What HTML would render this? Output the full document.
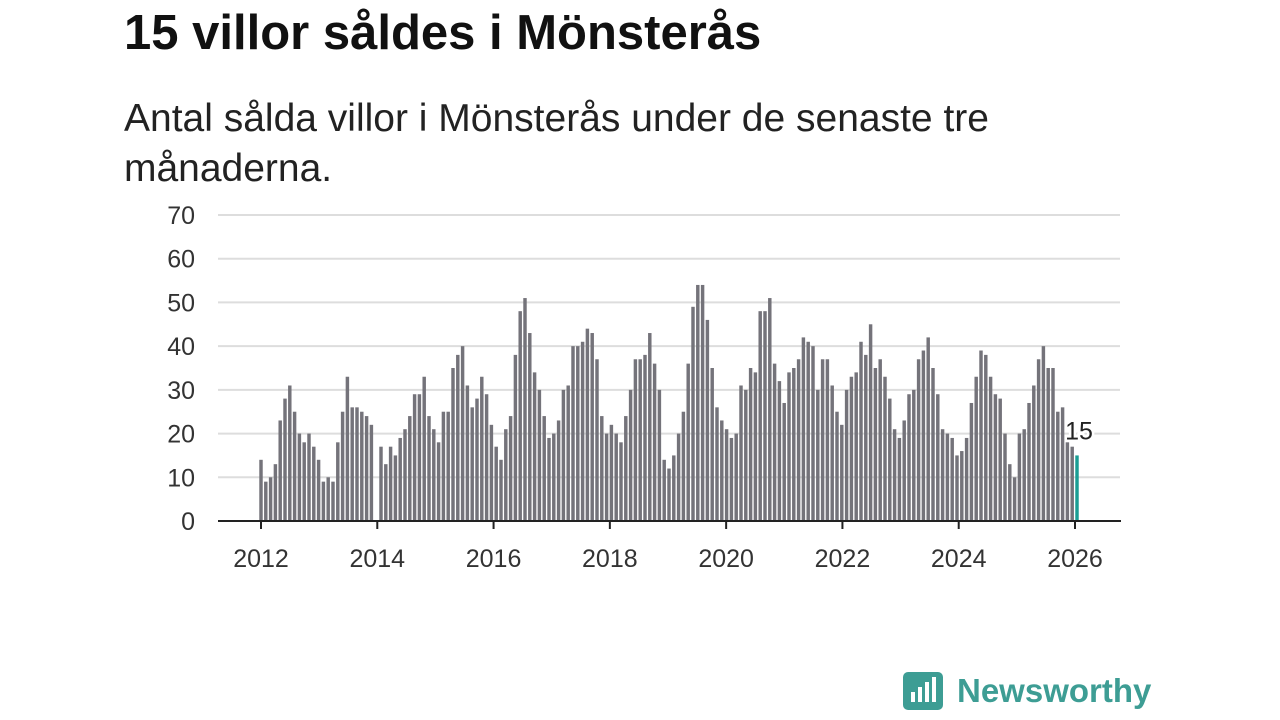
<!DOCTYPE html>
<html><head><meta charset="utf-8"><style>
body{margin:0;width:1280px;height:720px;background:#fff;font-family:"Liberation Sans",sans-serif;overflow:hidden;position:relative}
h1{position:absolute;left:124px;top:5px;margin:0;font-size:49px;font-weight:bold;color:#111}
p{position:absolute;left:124px;top:94px;margin:0;font-size:39px;line-height:50px;color:#222;width:960px}
svg{position:absolute;left:0;top:0}
</style></head><body>
<h1>15 villor såldes i Mönsterås</h1>
<p>Antal sålda villor i Mönsterås under de senaste tre månaderna.</p>
<svg id="c" width="1280" height="720"></svg>
<div style="position:absolute;left:903px;top:672px;display:flex;align-items:center">
<div style="width:40px;height:38px;background:#3d9d94;border-radius:5px;position:relative"><div style="position:absolute;left:8px;bottom:8px;width:4px;height:10px;background:#fff"></div><div style="position:absolute;left:15px;bottom:8px;width:4px;height:15px;background:#fff"></div><div style="position:absolute;left:22px;bottom:8px;width:4px;height:20px;background:#fff"></div><div style="position:absolute;left:29px;bottom:8px;width:4px;height:25px;background:#fff"></div></div>
<span style="margin-left:14px;font-size:33px;color:#3d9d94;font-weight:bold">Newsworthy</span></div>
<script>
const years=[2012,2013,2014,2015,2016,2017,2018,2019,2020,2021,2022,2023,2024,2025,2026];
const values=[14,9,10,13,23,28,31,25,20,18,20,17,
14,9,10,9,18,25,33,26,26,25,24,22,
0,17,13,17,15,19,21,24,29,29,33,24,
21,18,25,25,35,38,40,31,26,28,33,29,
22,17,14,21,24,38,48,51,43,34,30,24,
19,20,23,30,31,40,40,41,44,43,37,24,
20,22,20,18,24,30,37,37,38,43,36,30,
14,12,15,20,25,36,49,54,54,46,35,26,
23,21,19,20,31,30,35,34,48,48,51,36,
32,27,34,35,37,42,41,40,30,37,37,31,
25,22,30,33,34,41,38,45,35,37,33,28,
21,19,23,29,30,37,39,42,35,29,21,20,
19,15,16,19,27,33,39,38,33,29,28,20,
13,10,20,21,27,31,37,40,35,35,25,26,
18,17,15];
const yTicks=[0,10,20,30,40,50,60,70];
const svg=document.getElementById('c');const NS='http://www.w3.org/2000/svg';
const x=m=>261+m*(1077-261)/(values.length-1);const y=v=>521-v*(521-215)/70;
const xt=m=>261+m*(1075-261)/168;
function mk(t,a){const e=document.createElementNS(NS,t);for(const k in a)e.setAttribute(k,a[k]);svg.appendChild(e);return e;}
yTicks.forEach(t=>{
const l=mk('line',{x1:218,x2:1120,y1:y(t),y2:y(t),stroke:'#ddd','stroke-width':2});


const tx=mk('text',{x:195,y:y(t)+9,'text-anchor':'end','font-size':25,fill:'#333','font-family':'Liberation Sans,sans-serif'});tx.textContent=t;


});
const bw=(1077-261)/(values.length-1)*0.72;
values.forEach((v,i)=>{
const last=i===values.length-1;
const r=mk('rect',{x:x(i)-bw/2,y:y(v),width:bw,height:y(0)-y(v),fill:last?'#1a9e94':'#74737a'});


});
const ax=mk('line',{x1:218,x2:1121,y1:521,y2:521,stroke:'#222','stroke-width':2});


years.forEach((yr,k)=>{if(k%2)return;const xx=xt(k*12);
const t=mk('line',{x1:xx,x2:xx,y1:521,y2:529,stroke:'#222','stroke-width':2});


const tx=mk('text',{x:xx,y:567,'text-anchor':'middle','font-size':25,fill:'#333','font-family':'Liberation Sans,sans-serif'});tx.textContent=yr;


});
const li=values.length-1;
const lab=mk('text',{x:x(li)+2,y:y(values[li])-16,'text-anchor':'middle','font-size':25,fill:'#222',stroke:'#fff','stroke-width':5,'paint-order':'stroke','font-family':'Liberation Sans,sans-serif'});lab.textContent=values[li];


</script>
</body></html>
